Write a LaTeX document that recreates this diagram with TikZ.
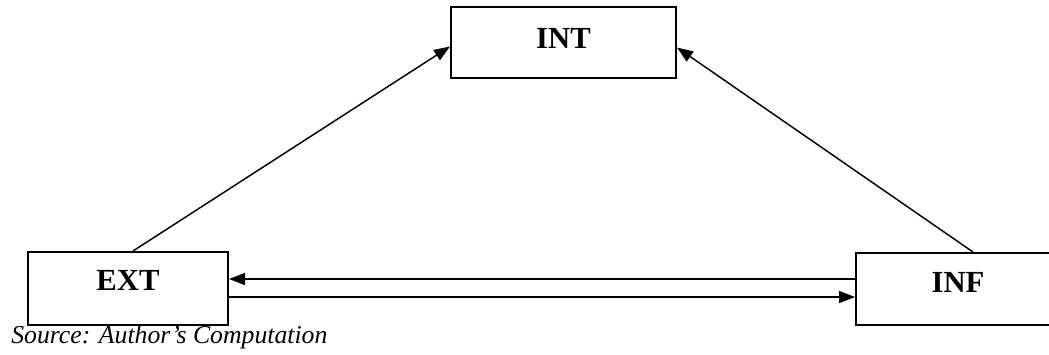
\documentclass[tikz,border=0pt]{standalone}
\usepackage{fontspec}
\setmainfont{Liberation Serif}
\usetikzlibrary{calc,arrows.meta}
\tikzset{box/.style={draw, line width=1.5pt, inner sep=0pt, text height=15.2pt, font=\fontsize{23}{27}\selectfont\bfseries},
	arr/.style={line width=1.1pt, -{Triangle[length=12pt,width=9pt]}}}

\begin{document}
\begin{tikzpicture}[x=0.75pt, y=-0.75pt]
		%%%%% START %%%%%
		\useasboundingbox (0, 0) rectangle (1049, 354);
		
		\node[box, minimum width=168.75pt, minimum height=53.25pt, text depth=6.8pt] (INT) at (563.5, 42.5) {INT};
		\node[box, minimum width=150pt, minimum height=54.75pt, text depth=12.8pt] (EXT) at (128, 288.5) {EXT};
		\node[box, minimum width=153pt, minimum height=54pt, text depth=10.5pt] (INF) at (958, 289) {INF};
		
		\draw[arr] ($(EXT.north)+(5, 0)$) -- ($(INT.west)+(0, 4)$);
		\draw[arr] ($(INF.north)+(15, 0)$) -- ($(INT.east)+(0, 5)$);
		
		\coordinate (up) at ($(EXT.east)+(0, -9.5)$);
		\coordinate (down) at ($(EXT.east)+(0, 8.5)$);
		\draw[arr] (INF.west |- up) -- (up);
		\draw[arr] (down) -- (INF.west |- down);
		
		\node[anchor=base west, inner sep=0pt, font=\fontsize{19.3}{22}\selectfont\itshape] (src) at (11, 343) {Source: Author’s Computation};
		%%%%% END %%%%%
\end{tikzpicture}
\end{document}
